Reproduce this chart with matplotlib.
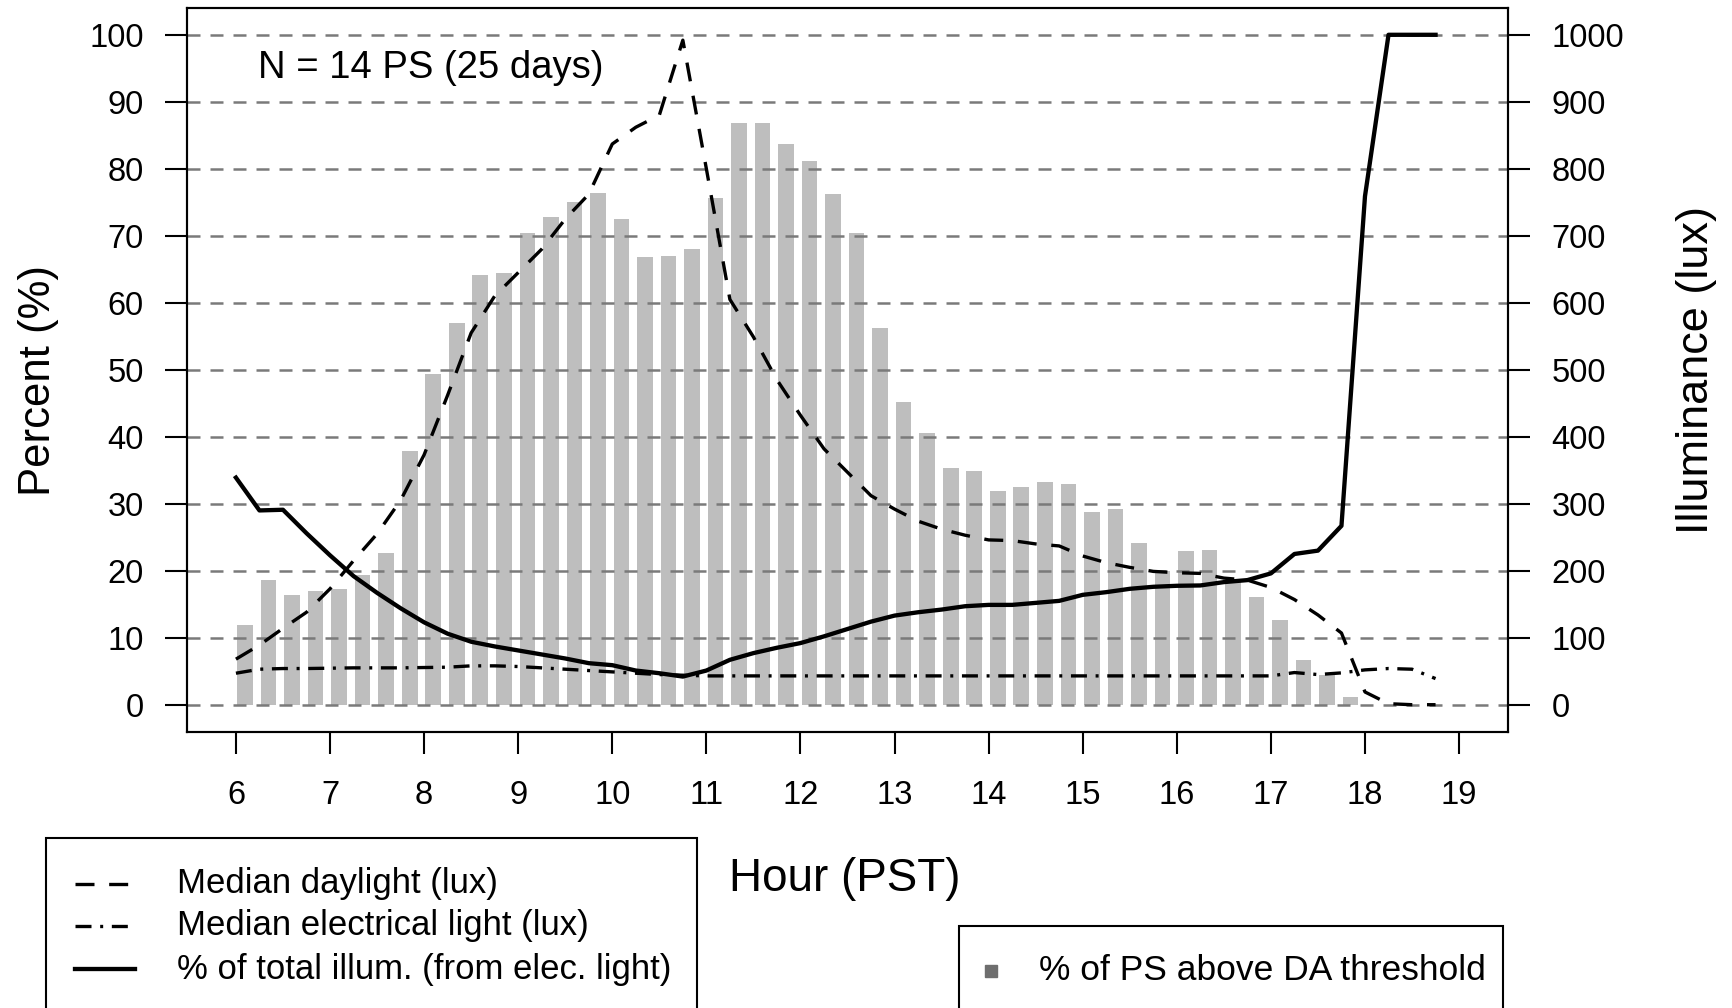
import numpy as np
import matplotlib
matplotlib.use("Agg")
import matplotlib.pyplot as plt
from matplotlib.lines import Line2D
from matplotlib.patches import Rectangle

plt.rcParams['font.family'] = ['Liberation Sans', 'DejaVu Sans']

# ---------------- data ----------------
hours = np.arange(6.0, 18.76, 0.25)   # 15-minute time steps, 6:00 .. 18:45

pct_above_da = [11.9, 18.6, 16.4, 17.0, 17.3, 19.3, 22.7, 37.8,
                49.4, 57.0, 64.1, 64.4, 70.4, 72.8, 75.1, 76.4,
                72.5, 66.9, 67.0, 68.0, 75.7, 86.8, 86.9, 83.7,
                81.1, 76.3, 70.4, 56.3, 45.2, 40.6, 35.3, 34.9,
                31.9, 32.5, 33.3, 32.9, 28.8, 29.2, 24.2, 20.0,
                22.9, 23.1, 18.8, 16.1, 12.7, 6.7, 4.4, 1.1,
                0.0, 0.0, 0.0, 0.0]

daylight_lux = [68, 89, 114, 138, 173, 215, 255, 305,
                373, 462, 555, 610, 645, 680, 725, 762,
                837, 862, 880, 992, 800, 605, 549, 485,
                432, 382, 347, 312, 292, 274, 262, 253,
                246, 245, 240, 237, 222, 212, 205, 199,
                197, 196, 189, 186, 175, 157, 134, 107,
                19, 1.5, 0, 0]

electric_lux = [47, 53, 54, 54, 54.5, 55, 55, 55,
                55.5, 56, 58, 58, 57, 55, 53, 51,
                49, 47, 45, 44, 43, 43, 43, 43,
                43, 43, 43, 43, 43, 43, 43, 43,
                43, 43, 43, 43, 43, 43, 43, 43,
                43, 43, 43, 43, 43, 48, 45, 47.5,
                52, 54, 53, 39]

pct_elec = [33.9, 29.0, 29.1, 25.6, 22.3, 19.2, 16.7, 14.4,
            12.3, 10.6, 9.4, 8.7, 8.1, 7.5, 6.9, 6.2,
            5.9, 5.1, 4.7, 4.2, 5.1, 6.7, 7.7, 8.5,
            9.2, 10.2, 11.3, 12.4, 13.3, 13.8, 14.2, 14.7,
            14.9, 14.9, 15.2, 15.5, 16.4, 16.8, 17.3, 17.6,
            17.75, 17.8, 18.3, 18.6, 19.6, 22.5, 23.0, 26.7,
            75.9, 100, 100, 100]

x_ticks = list(range(6, 20))
pct_ticks = list(range(0, 101, 10))
lux_ticks = list(range(0, 1001, 100))

legend_lines = ["Median daylight (lux)", "Median electrical light (lux)",
                "% of total illum. (from elec. light)"]
legend_bar = "% of PS above DA threshold"
annotation = "N = 14 PS (25 days)"

# ---------------- figure ----------------
W, H = 1733, 1008
fig = plt.figure(figsize=(W / 100, H / 100), dpi=100)


def fx(px):
    return px / W


def fy(py):
    return 1 - py / H


ax2 = fig.add_axes([fx(187), fy(731.5), fx(1508) - fx(187), fy(8) - fy(731.5)])
ax = ax2.twinx()          # percent axis drawn on top
ax.yaxis.tick_left()
ax2.yaxis.tick_right()
ax.patch.set_visible(False)

ax.set_xlim(5.48, 19.52)
ax.set_ylim(-4, 104)
ax2.set_ylim(-40, 1040)

DASH_LW = 2.4
SOLID_LW = 3.1
day_dash = (5.7, 4.4)
elec_dash = (4.8, 2.6, 0.9, 2.6)

# bars (offset within each 15-min slot), on the lux scale (x10)
bar_off = 0.097
ax2.bar(hours + bar_off, np.array(pct_above_da) * 10, width=0.166,
        color='#bebebe', edgecolor='none', zorder=1)
for v in lux_ticks:
    ax2.axhline(v, color='#7a7a7a', lw=1.8, dashes=(5.2, 4), zorder=2)
ax2.plot(hours, daylight_lux, color='black', lw=DASH_LW, dashes=day_dash, zorder=3)
ax2.plot(hours, electric_lux, color='black', lw=DASH_LW, dashes=elec_dash, zorder=3)
ax.plot(hours, pct_elec, color='black', lw=SOLID_LW, zorder=4)

# axes styling
for a in (ax, ax2):
    for s in a.spines.values():
        s.set_linewidth(1.5)
        s.set_color('black')

ax2.set_xticks(x_ticks)
ax2.set_xticklabels([str(t) for t in x_ticks])
ax.set_yticks(pct_ticks)
ax.set_yticklabels([str(t) for t in pct_ticks])
ax2.set_yticks(lux_ticks)
ax2.set_yticklabels([str(t) for t in lux_ticks])
ax2.tick_params(axis='x', direction='out', length=15.8, width=1.5, pad=19,
                labelsize=23.5)
ax.tick_params(axis='y', direction='out', length=15.8, width=1.5, pad=15.5,
               labelsize=23.5, left=True, labelleft=True, right=False,
               labelright=False)
ax2.tick_params(axis='y', direction='out', length=15.8, width=1.5, pad=15.5,
                labelsize=23.5, right=True, labelright=True, left=False,
                labelleft=False)

# labels
fig.text(fx(39), fy(381), "Percent (%)", rotation=90, ha='center', va='center',
         fontsize=31.5)
fig.text(fx(1697), fy(370), "Illuminance (lux)", rotation=90, ha='center',
         va='center', fontsize=32.5)
fig.text(fx(729), fy(879), "Hour (PST)", ha='left', va='center', fontsize=33)
ax.text(6.23, 95, annotation, ha='left', va='center', fontsize=27.5)

# legend 1 (lines), frame continues past the bottom edge
fig.add_artist(Rectangle((fx(46), fy(1030)), fx(697) - fx(46), fy(838) - fy(1030),
                         transform=fig.transFigure, fill=False, lw=1.5,
                         edgecolor='black', clip_on=False))
leg_y = [884, 926, 969]
styles = [dict(lw=DASH_LW, dashes=day_dash),
          dict(lw=DASH_LW, dashes=elec_dash),
          dict(lw=SOLID_LW)]
for yy, lab, st in zip(leg_y, legend_lines, styles):
    fig.add_artist(Line2D([fx(75), fx(135)], [fy(yy), fy(yy)], color='black',
                          transform=fig.transFigure, **st))
    fig.text(fx(177), fy(yy), lab, ha='left', va='center', fontsize=25)

# legend 2 (bars)
fig.add_artist(Rectangle((fx(959), fy(1030)), fx(1503) - fx(959), fy(926) - fy(1030),
                         transform=fig.transFigure, fill=False, lw=1.5,
                         edgecolor='black', clip_on=False))
fig.add_artist(Line2D([fx(991)], [fy(971)], marker='s', markersize=8,
                      color='#6e6e6e', linestyle='none',
                      transform=fig.transFigure))
fig.text(fx(1039), fy(971), legend_bar, ha='left', va='center', fontsize=25.5)

fig.savefig("out.png", dpi=100)
